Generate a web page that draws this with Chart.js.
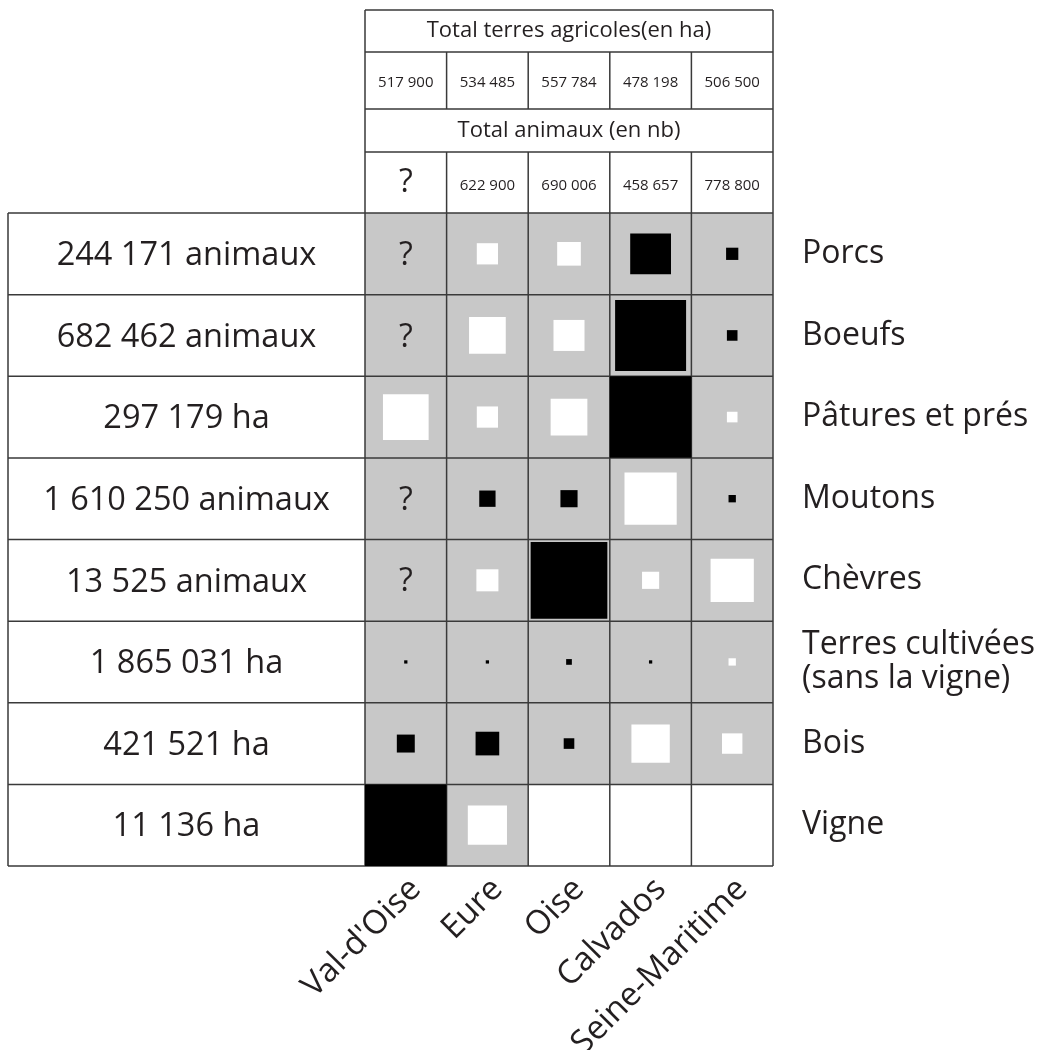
<!DOCTYPE html>
<html lang="fr">
<head>
<meta charset="utf-8">
<title>Matrice agricole</title>
<script src="https://cdn.jsdelivr.net/npm/chart.js@4.4.1/dist/chart.umd.min.js"></script>
<style>
  html, body { margin: 0; padding: 0; background: #fff; }
  #matrice { display: block; }
</style>
</head>
<body>
<canvas id="matrice" width="1039" height="1050"></canvas>
<script>
// Colonnes : départements et leurs totaux
const departements = ["Val-d'Oise", 'Eure', 'Oise', 'Calvados', 'Seine-Maritime'];
const terresAgricoles = [517900, 534485, 557784, 478198, 506500];
const totalAnimaux = [null, 622900, 690006, 458657, 778800];

// Lignes : variables et totaux régionaux
const variables = ['Porcs', 'Boeufs', 'Pâtures et prés', 'Moutons', 'Chèvres',
  ['Terres cultivées', '(sans la vigne)'], 'Bois', 'Vigne'];
const totaux = [244171, 682462, 297179, 1610250, 13525, 1865031, 421521, 11136];
const unites = ['animaux', 'animaux', 'ha', 'animaux', 'animaux', 'ha', 'ha', 'ha'];

// Côté du carré en % de la case : positif = noir, négatif = blanc,
// '?' = donnée inconnue, null = case vide
const porcs    = ['?', -26, -29, 50, 15];
const boeufs   = ['?', -45, -38, 87, 13];
const patures  = [-56, -26, -45, 100, -13];
const moutons  = ['?', 20, 21, -64, 9];
const chevres  = ['?', -27, 94, -21, -53];
const cultures = [4, 4, 7, 4, -9];
const bois     = [22, 29, 13, -47, -25];
const vigne    = [100, -48, null, null, null];
const matrice = [porcs, boeufs, patures, moutons, chevres, cultures, bois, vigne];

const police = "'Open Sans', sans-serif";
const encre = '#231f20';
const trait = '#3a3a3a';
const gris = '#c8c8c8';

const fmt = n => String(n).replace(/\B(?=(\d{3})+(?!\d))/g, ' ');

const points = [];
matrice.forEach((ligne, r) => ligne.forEach((v, c) => {
  if (typeof v === 'number') points.push({x: c, y: r, v: v});
}));

function largeurCase(chart) {
  const x = chart.scales.x;
  return x.getPixelForValue(1) - x.getPixelForValue(0);
}
function cote(c) {
  return Math.abs(c.raw.v) / 100 * largeurCase(c.chart);
}

// hauteurs des lignes de l'en-tête (du haut vers le bas)
const enTete = [42, 57, 43, 61];

const tableau = {
  id: 'tableau',
  beforeDraw(chart) {
    const {ctx, scales: {x, y}} = chart;
    const w = largeurCase(chart);
    const h = y.getPixelForValue(1) - y.getPixelForValue(0);
    ctx.save();
    ctx.fillStyle = '#fff';
    ctx.fillRect(0, 0, chart.width, chart.height);
    ctx.fillStyle = gris;
    matrice.forEach((ligne, r) => ligne.forEach((v, c) => {
      if (v === null) return;
      ctx.fillRect(x.getPixelForValue(c) - w / 2, y.getPixelForValue(r) - h / 2, w, h);
    }));
    ctx.restore();
  },
  beforeDatasetsDraw(chart) {
    const {ctx, chartArea: a, scales: {x, y}} = chart;
    const gauche = 8;
    const haut = a.top - enTete.reduce((s, v) => s + v, 0);
    ctx.save();
    ctx.strokeStyle = trait;
    ctx.lineWidth = 1.5;
    ctx.beginPath();
    // lignes horizontales de la matrice + colonne des totaux
    for (let i = 0; i <= variables.length; i++) {
      const yy = y.getPixelForValue(i - 0.5);
      ctx.moveTo(gauche, yy); ctx.lineTo(a.right, yy);
    }
    ctx.moveTo(gauche, a.top); ctx.lineTo(gauche, a.bottom);
    for (let c = 0; c <= departements.length; c++) {
      const xx = x.getPixelForValue(c - 0.5);
      ctx.moveTo(xx, a.top); ctx.lineTo(xx, a.bottom);
    }
    // en-tête
    let yy = haut;
    enTete.forEach((hr, i) => {
      ctx.moveTo(a.left, yy); ctx.lineTo(a.right, yy);
      ctx.moveTo(a.left, yy); ctx.lineTo(a.left, yy + hr);
      ctx.moveTo(a.right, yy); ctx.lineTo(a.right, yy + hr);
      if (i % 2 === 1) {
        for (let c = 1; c < departements.length; c++) {
          const xx = x.getPixelForValue(c - 0.5);
          ctx.moveTo(xx, yy); ctx.lineTo(xx, yy + hr);
        }
      }
      yy += hr;
    });
    ctx.stroke();
    ctx.restore();
  },
  afterDatasetsDraw(chart) {
    const {ctx, chartArea: a, scales: {x, y}} = chart;
    const haut = a.top - enTete.reduce((s, v) => s + v, 0);
    const milieu = (a.left + a.right) / 2;
    ctx.save();
    ctx.fillStyle = encre;
    ctx.textAlign = 'center';
    ctx.textBaseline = 'middle';

    // points d'interrogation dans la matrice
    ctx.font = '32px ' + police;
    matrice.forEach((ligne, r) => ligne.forEach((v, c) => {
      if (v === '?') ctx.fillText('?', x.getPixelForValue(c), y.getPixelForValue(r) + 2);
    }));

    // colonne des totaux
    ctx.font = '32.5px ' + police;
    totaux.forEach((t, r) => {
      ctx.fillText(fmt(t) + ' ' + unites[r], (8 + a.left) / 2, y.getPixelForValue(r) + 2);
    });

    // en-tête
    const y1 = haut + enTete[0] / 2;
    const y2 = haut + enTete[0] + enTete[1] / 2;
    const y3 = haut + enTete[0] + enTete[1] + enTete[2] / 2;
    const y4 = haut + enTete[0] + enTete[1] + enTete[2] + enTete[3] / 2;
    ctx.font = '22px ' + police;
    ctx.fillText('Total terres agricoles(en ha)', milieu, y1);
    ctx.fillText('Total animaux (en nb)', milieu, y3);
    terresAgricoles.forEach((t, c) => {
      ctx.font = '15px ' + police;
      ctx.fillText(fmt(t), x.getPixelForValue(c), y2 + 2);
    });
    totalAnimaux.forEach((t, c) => {
      if (t === null) {
        ctx.font = '32px ' + police;
        ctx.fillText('?', x.getPixelForValue(c), y4);
      } else {
        ctx.font = '15px ' + police;
        ctx.fillText(fmt(t), x.getPixelForValue(c), y4 + 3);
      }
    });
    ctx.restore();
  }
};

new Chart(document.getElementById('matrice'), {
  type: 'scatter',
  data: {
    datasets: [{
      data: points,
      pointStyle: 'rect',
      pointRadius: c => cote(c) / Math.SQRT2,
      pointHoverRadius: c => cote(c) / Math.SQRT2,
      pointBackgroundColor: c => c.raw.v > 0 ? '#000' : '#fff',
      pointBorderWidth: 0,
      pointHoverBorderWidth: 0,
      clip: false
    }]
  },
  options: {
    responsive: false,
    animation: false,
    events: [],
    layout: { padding: { left: 365, top: 213, right: 0, bottom: 0 } },
    plugins: { legend: { display: false }, tooltip: { enabled: false } },
    scales: {
      x: {
        type: 'linear', min: -0.5, max: 4.5,
        afterBuildTicks: s => { s.ticks = departements.map((d, i) => ({value: i})); },
        afterFit: s => { s.height = 184; },
        grid: { display: false, drawTicks: false },
        border: { display: false },
        ticks: {
          autoSkip: false, minRotation: 45, maxRotation: 45, padding: 4, labelOffset: 10,
          color: encre, font: { family: police, size: 33 },
          callback: v => departements[v]
        }
      },
      y: {
        type: 'linear', position: 'right', reverse: true, min: -0.5, max: 7.5,
        afterBuildTicks: s => { s.ticks = variables.map((d, i) => ({value: i})); },
        afterFit: s => { s.width = 266; },
        grid: { display: false, drawTicks: false },
        border: { display: false },
        ticks: {
          autoSkip: false, padding: 29,
          color: encre, font: { family: police, size: 32, lineHeight: 1.08 },
          callback: v => variables[v]
        }
      }
    }
  },
  plugins: [tableau]
});
</script>
</body>
</html>
